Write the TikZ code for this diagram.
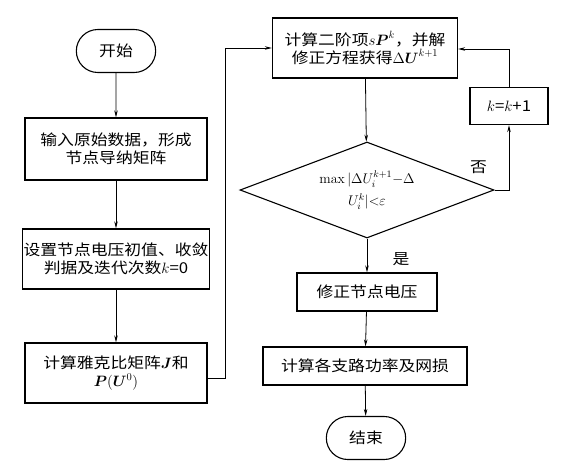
\RequirePackage{fix-cm}
\documentclass[tikz,border=0pt]{standalone}
\usepackage{amsmath}
\usepackage{fontspec}
\newfontfamily\cjk[FakeStretch=1.12]{Noto Sans CJK SC}
\usetikzlibrary{positioning, shapes.geometric, shapes.misc, arrows.meta}

\begin{document}
\begin{tikzpicture}[x=1pt, y=-1pt,
  >={Stealth[length=7pt, width=3.5pt]},
  every node/.style={font=\cjk\fontsize{15}{18}\selectfont, align=center},
  box/.style={draw, line width=1.3pt, inner sep=1pt},
  term/.style={draw, rounded rectangle, line width=1.1pt,
    minimum width=86pt, minimum height=43pt},
  cond/.style={draw, diamond, aspect=2.6, line width=1.1pt, inner sep=1pt,
    minimum width=254pt, minimum height=96pt},
  flow/.style={->, line width=0.8pt}]
  \useasboundingbox (0,0) rectangle (580,469);

  % left column
  \node[term]                                     (start) at (116,51)
  {开始};
  \node[box, minimum width=182pt, minimum height=62pt] (input) at (116,149)
  {输入原始数据，形成\\节点导纳矩阵};
  \node[box, minimum width=182pt, minimum height=60pt] (init)  at (116,259)
  {设置节点电压初值、收敛\\判据及迭代次数$k$=0};
  \node[box, minimum width=182pt, minimum height=60pt] (jacob) at (116,373)
  {计算雅克比矩阵$\boldsymbol{J}$和\\$\boldsymbol{P}(\boldsymbol{U}^0)$};

  % right column
  \node[box, minimum width=185pt, minimum height=60pt] (solve) at (365,48)
  {计算二阶项$s\boldsymbol{P}^k$，并解\\修正方程获得$\Delta\boldsymbol{U}^{k+1}$};
  \node[box, minimum width=78pt, minimum height=37pt]  (incr)  at (509,106)
  {$k$=$k$+1};
  \node[cond, font=\fontsize{14}{22}\selectfont]      (check) at (367,190)
  {$\max|\Delta U_i^{k+1}{-}\Delta$\\$U_i^k|{<}\varepsilon$};
  \node[box, minimum width=140pt, minimum height=38pt] (fix)   at (367,292)
  {修正节点电压};
  \node[box, minimum width=204pt, minimum height=38pt] (power) at (365,366)
  {计算各支路功率及网损};
  \node[term]                                     (stop)  at (366,438)
  {结束};

  \draw[flow] (start) -- (input);
  \draw[flow] (input) -- (init);
  \draw[flow] (init)  -- (jacob);
  \draw[flow] ([yshift=-5pt]jacob.east) -- ++(18,0) |- (solve.west);
  \draw[flow] (solve) -- (check);
  \draw[flow] (check.east) -| node[pos=0, xshift=-16pt, yshift=23pt] {否}
  (incr.south);
  \draw[flow] (incr.north) |- ([yshift=-1pt]solve.east);
  \draw[flow] (check.south) -- node[pos=0.6, right=22pt] {是}
  (fix.north);
  \draw[flow] (fix)   -- (power);
  \draw[flow] (power) -- (stop);
\end{tikzpicture}
\end{document}
